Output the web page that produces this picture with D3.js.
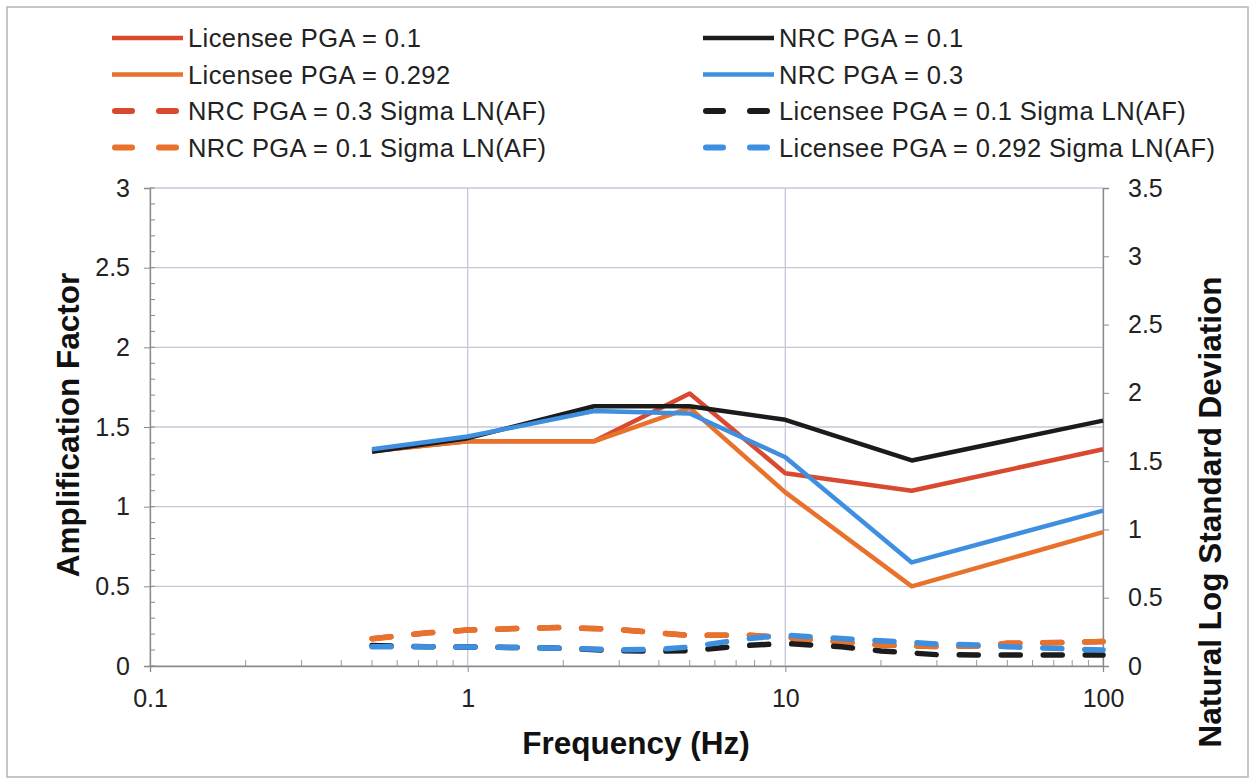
<!DOCTYPE html>
<html>
<head>
<meta charset="utf-8">
<title>Amplification Factor vs Frequency</title>
<script src="https://cdn.jsdelivr.net/npm/d3@7"></script>
<style>
body { margin: 0; background: #ffffff; }
svg { font-family: "Liberation Sans", Arial, Helvetica, sans-serif; }
.grid line { stroke: #c4c7d9; stroke-width: 1.3; }
.legend text { font-size: 25.5px; fill: #222; letter-spacing: 0.4px; }
.title { font-size: 31.5px; font-weight: bold; fill: #111; }
</style>
</head>
<body>
<div id="chart"></div>
<script>
// frequencies (Hz) for the amplification factor curves
var afFreq = [0.5, 1, 2.5, 5, 10, 25, 100];
var licensee01 = [1.35, 1.41, 1.41, 1.71, 1.21, 1.10, 1.36];
var licensee0292 = [1.35, 1.41, 1.41, 1.62, 1.09, 0.50, 0.84];
var nrc01 = [1.345, 1.43, 1.63, 1.63, 1.545, 1.29, 1.54];
var nrc03 = [1.36, 1.44, 1.60, 1.585, 1.31, 0.65, 0.975];

// frequencies (Hz) for the sigma ln(AF) curves (right axis)
var sigFreq = [0.5, 0.75, 1, 1.5, 2, 3, 4, 5, 7.5, 10, 15, 20, 30, 40, 50, 75, 100];
var nrc03Sigma = [0.20, 0.243, 0.263, 0.276, 0.282, 0.267, 0.242, 0.223, 0.227, 0.209, 0.176, 0.154, 0.143, 0.146, 0.166, 0.172, 0.179];
var nrc01Sigma = [0.20, 0.243, 0.263, 0.276, 0.282, 0.267, 0.242, 0.223, 0.227, 0.209, 0.176, 0.154, 0.143, 0.146, 0.166, 0.172, 0.179];
var licensee01Sigma = [0.15, 0.141, 0.139, 0.135, 0.130, 0.112, 0.108, 0.113, 0.150, 0.165, 0.141, 0.110, 0.083, 0.081, 0.081, 0.081, 0.081];
var licensee0292Sigma = [0.141, 0.141, 0.139, 0.135, 0.130, 0.119, 0.122, 0.139, 0.199, 0.226, 0.201, 0.185, 0.161, 0.154, 0.141, 0.127, 0.117];

var xTicks = [0.1, 1, 10, 100];
var yLeftTicks = [0, 0.5, 1, 1.5, 2, 2.5, 3];
var yRightTicks = [0, 0.5, 1, 1.5, 2, 2.5, 3, 3.5];

var series = [
  {name: "Licensee PGA = 0.1", x: afFreq, y: licensee01, axis: "L", color: "#d9492f", dash: false},
  {name: "Licensee PGA = 0.292", x: afFreq, y: licensee0292, axis: "L", color: "#e8712b", dash: false},
  {name: "NRC PGA = 0.3 Sigma LN(AF)", x: sigFreq, y: nrc03Sigma, axis: "R", color: "#d9492f", dash: true},
  {name: "NRC PGA = 0.1 Sigma LN(AF)", x: sigFreq, y: nrc01Sigma, axis: "R", color: "#e8712b", dash: true},
  {name: "NRC PGA = 0.1", x: afFreq, y: nrc01, axis: "L", color: "#1b1b1b", dash: false},
  {name: "NRC PGA = 0.3", x: afFreq, y: nrc03, axis: "L", color: "#3f8fe0", dash: false},
  {name: "Licensee PGA = 0.1 Sigma LN(AF)", x: sigFreq, y: licensee01Sigma, axis: "R", color: "#1b1b1b", dash: true},
  {name: "Licensee PGA = 0.292 Sigma LN(AF)", x: sigFreq, y: licensee0292Sigma, axis: "R", color: "#3f8fe0", dash: true}
];

var W = 1255, H = 782;
var pLeft = 150, pRight = 1103, pTop = 188, pBottom = 666;

var svg = d3.select("#chart").append("svg")
  .attr("width", W).attr("height", H);

svg.append("rect").attr("x", 7).attr("y", 7).attr("width", W - 14).attr("height", H - 12)
  .attr("fill", "#fff").attr("stroke", "#b5b5b5").attr("stroke-width", 1.5);

var x = d3.scaleLog().domain([0.1, 100]).range([pLeft, pRight]);
var yL = d3.scaleLinear().domain([0, 3]).range([pBottom, pTop]);
var yR = d3.scaleLinear().domain([0, 3.5]).range([pBottom, pTop]);

// grid
var grid = svg.append("g").attr("class", "grid");
grid.selectAll(".h").data(yLeftTicks).enter().append("line")
  .attr("x1", pLeft).attr("x2", pRight)
  .attr("y1", function(d) { return yL(d); }).attr("y2", function(d) { return yL(d); });
grid.selectAll(".v").data(xTicks).enter().append("line")
  .attr("x1", function(d) { return x(d); }).attr("x2", function(d) { return x(d); })
  .attr("y1", pTop).attr("y2", pBottom);

// minor ticks
var minorY = d3.range(0, 3.001, 0.1);
svg.append("g").selectAll("line").data(minorY).enter().append("line")
  .attr("x1", pLeft).attr("x2", pLeft + 5)
  .attr("y1", function(d) { return yL(d); }).attr("y2", function(d) { return yL(d); })
  .attr("stroke", "#888").attr("stroke-width", 1);
var minorX = [];
[0.1, 1, 10].forEach(function(dec) { for (var k = 2; k <= 9; k++) minorX.push(dec * k); });
svg.append("g").selectAll("line").data(minorX).enter().append("line")
  .attr("x1", function(d) { return x(d); }).attr("x2", function(d) { return x(d); })
  .attr("y1", pBottom).attr("y2", pBottom - 6)
  .attr("stroke", "#999").attr("stroke-width", 1);

// axes
var axL = svg.append("g").attr("transform", "translate(" + pLeft + ",0)")
  .call(d3.axisLeft(yL).tickValues(yLeftTicks).tickFormat(d3.format("")).tickSize(6).tickPadding(14));
var axR = svg.append("g").attr("transform", "translate(" + pRight + ",0)")
  .call(d3.axisRight(yR).tickValues(yRightTicks).tickFormat(d3.format("")).tickSize(6).tickPadding(19));
var axB = svg.append("g").attr("transform", "translate(0," + pBottom + ")")
  .call(d3.axisBottom(x).tickValues(xTicks).tickFormat(d3.format("")).tickSize(6).tickPadding(17));
[axL, axR, axB].forEach(function(a) {
  a.select(".domain").attr("stroke", "#8a8a8a").attr("stroke-width", 1.3);
  a.selectAll(".tick line").attr("stroke", "#8a8a8a");
  a.selectAll(".tick text").style("font-size", "25px").attr("fill", "#222");
});

// lines
var plot = svg.append("g");
series.forEach(function(s) {
  var yS = s.axis === "L" ? yL : yR;
  var line = d3.line()
    .x(function(d, i) { return x(s.x[i]); })
    .y(function(d) { return yS(d); });
  plot.append("path").datum(s.y)
    .attr("d", line)
    .attr("fill", "none")
    .attr("stroke", s.color)
    .attr("stroke-width", s.dash ? 5.5 : 4.5)
    .attr("stroke-linecap", s.dash ? "round" : "butt")
    .attr("stroke-linejoin", "round")
    .attr("stroke-dasharray", s.dash ? "19,23" : null);
});

// legend
var legend = svg.append("g").attr("class", "legend");
series.forEach(function(s, i) {
  var col = i < 4 ? 0 : 1;
  var row = i % 4;
  var lx = col === 0 ? 112 : 703;
  var ly = 38 + row * 36.5;
  if (s.dash) {
    legend.append("line").attr("x1", lx + 3).attr("x2", lx + 20).attr("y1", ly).attr("y2", ly)
      .attr("stroke", s.color).attr("stroke-width", 6).attr("stroke-linecap", "round");
    legend.append("line").attr("x1", lx + 47).attr("x2", lx + 64).attr("y1", ly).attr("y2", ly)
      .attr("stroke", s.color).attr("stroke-width", 6).attr("stroke-linecap", "round");
  } else {
    legend.append("line").attr("x1", lx).attr("x2", lx + 71).attr("y1", ly).attr("y2", ly)
      .attr("stroke", s.color).attr("stroke-width", 4.5);
  }
  legend.append("text").attr("x", lx + 76).attr("y", ly + 9).text(s.name);
});

// titles
svg.append("text").attr("class", "title").attr("x", 636).attr("y", 754)
  .attr("text-anchor", "middle").text("Frequency (Hz)");
svg.append("text").attr("class", "title")
  .attr("transform", "translate(79,425) rotate(-90)")
  .attr("text-anchor", "middle").text("Amplification Factor");
svg.append("text").attr("class", "title")
  .attr("transform", "translate(1221,512) rotate(-90)")
  .attr("text-anchor", "middle").text("Natural Log Standard Deviation");
</script>
</body>
</html>
